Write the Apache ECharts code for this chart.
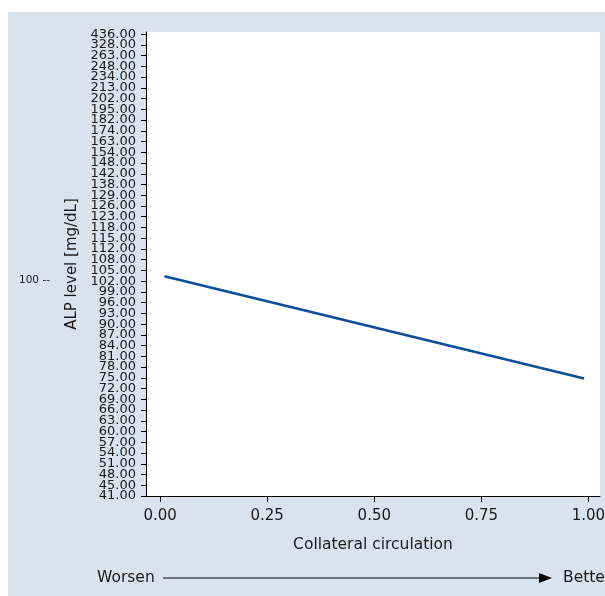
<!DOCTYPE html>
<html>
<head>
<meta charset="utf-8">
<script src="https://cdn.jsdelivr.net/npm/echarts@6/dist/echarts.min.js"></script>
<style>
  html, body { margin: 0; padding: 0; background: #ffffff; }
  #wrap { position: relative; width: 605px; height: 596px; overflow: hidden; background: #ffffff; }
  #bg { position: absolute; left: 8px; top: 12px; width: 597px; height: 584px; background: #d9e3ee; }
  #chart { position: absolute; left: 0; top: 0; width: 605px; height: 596px; }
</style>
</head>
<body>
<div id="wrap">
  <div id="bg"></div>
  <div id="chart"></div>
</div>
<script>
// Y-axis tick labels, bottom to top (equally spaced on the axis)
const yTickLabels = [41,45,48,51,54,57,60,63,66,69,72,75,78,81,84,87,90,93,96,99,102,105,108,112,115,118,123,126,129,138,142,148,154,163,174,182,195,202,213,234,248,263,328,436];
// X-axis tick values
const xTickValues = [0, 0.25, 0.5, 0.75, 1];
// Series: collateral circulation vs ALP level
const xValues = [0.01, 0.99];
const alpValues = [103.4, 74.8];

// Map a value onto the axis' equally spaced tick index (piecewise linear scale)
function toAxisIndex(v) {
  for (let i = 0; i < yTickLabels.length - 1; i++) {
    const a = yTickLabels[i], b = yTickLabels[i + 1];
    if (v >= a && v <= b) return i + (v - a) / (b - a);
  }
  return v < yTickLabels[0] ? 0 : yTickLabels.length - 1;
}
const yIdxTicks = yTickLabels.map((_, i) => i);
const yEven = yIdxTicks.filter(i => i % 2 === 0);
const yOdd = yIdxTicks.filter(i => i % 2 === 1);
const seriesData = xValues.map((x, i) => [x, toAxisIndex(alpValues[i])]);

const FONT = 'DejaVu Sans';
const yFmt = v => {
  const i = Math.round(v);
  return (Math.abs(v - i) < 1e-6 && yTickLabels[i] !== undefined) ? yTickLabels[i].toFixed(2) : '';
};
const yLabelBase = {
  showMinLabel: true, showMaxLabel: true, hideOverlap: false,
  margin: 10, fontFamily: FONT, fontSize: 13, color: '#1a1a1a', formatter: yFmt
};

const chart = echarts.init(document.getElementById('chart'), null, { renderer: 'canvas' });
chart.setOption({
  animation: false,
  backgroundColor: 'transparent',
  grid: {
    left: 146, right: 5, top: 32, bottom: 100,
    outerBoundsMode: 'none',
    containLabel: false,
    show: true, backgroundColor: '#ffffff', borderWidth: 0
  },
  xAxis: {
    type: 'value',
    min: -0.033, max: 1.027,
    name: 'Collateral circulation',
    nameLocation: 'middle',
    nameGap: 41,
    nameTextStyle: { fontFamily: FONT, fontSize: 15.5, color: '#1a1a1a' },
    axisLine: { show: true, onZero: false, lineStyle: { color: '#000', width: 1 } },
    axisTick: { show: true, length: 6, customValues: xTickValues, lineStyle: { color: '#000' } },
    axisLabel: {
      customValues: xTickValues,
      showMinLabel: true, showMaxLabel: true, hideOverlap: false,
      margin: 13, fontFamily: FONT, fontSize: 15, color: '#1a1a1a',
      formatter: v => Number(v).toFixed(2)
    },
    splitLine: { show: false }
  },
  yAxis: [{
    type: 'value',
    position: 'left',
    min: 0, max: 43.2,
    name: 'ALP level [mg/dL]',
    nameLocation: 'middle',
    nameGap: 63,
    nameTextStyle: { fontFamily: FONT, fontSize: 15, color: '#1a1a1a' },
    axisLine: { show: true, onZero: false, lineStyle: { color: '#000', width: 1 } },
    axisTick: { show: true, length: 5, customValues: yIdxTicks, lineStyle: { color: '#000' } },
    axisLabel: Object.assign({ customValues: yEven }, yLabelBase),
    splitLine: { show: false }
  }, {
    type: 'value',
    position: 'left',
    offset: 0,
    min: 0, max: 43.2,
    axisLine: { show: false, onZero: false },
    axisTick: { show: false, length: 5 },
    axisLabel: Object.assign({ customValues: yOdd }, yLabelBase),
    splitLine: { show: false }
  }],
  series: [{
    type: 'line',
    yAxisIndex: 0,
    data: seriesData,
    showSymbol: false,
    symbol: 'none',
    lineStyle: { color: '#0b4d97', width: 2.6 },
    z: 3
  }],
  graphic: [
    { type: 'text', left: 19, top: 275, style: { text: '100 --', fontFamily: FONT, fontSize: 10.5, fill: '#1a1a1a' } },
    { type: 'text', left: 97, top: 570, style: { text: 'Worsen', fontFamily: FONT, fontSize: 15.5, fill: '#1a1a1a' } },
    { type: 'line', shape: { x1: 163, y1: 578, x2: 541, y2: 578 }, style: { stroke: '#000', lineWidth: 1.2 } },
    { type: 'polygon', shape: { points: [[539, 573], [552, 578], [539, 583]] }, style: { fill: '#000' } },
    { type: 'text', left: 563, top: 570, style: { text: 'Better', fontFamily: FONT, fontSize: 15.5, fill: '#1a1a1a' } }
  ]
});
</script>
</body>
</html>
